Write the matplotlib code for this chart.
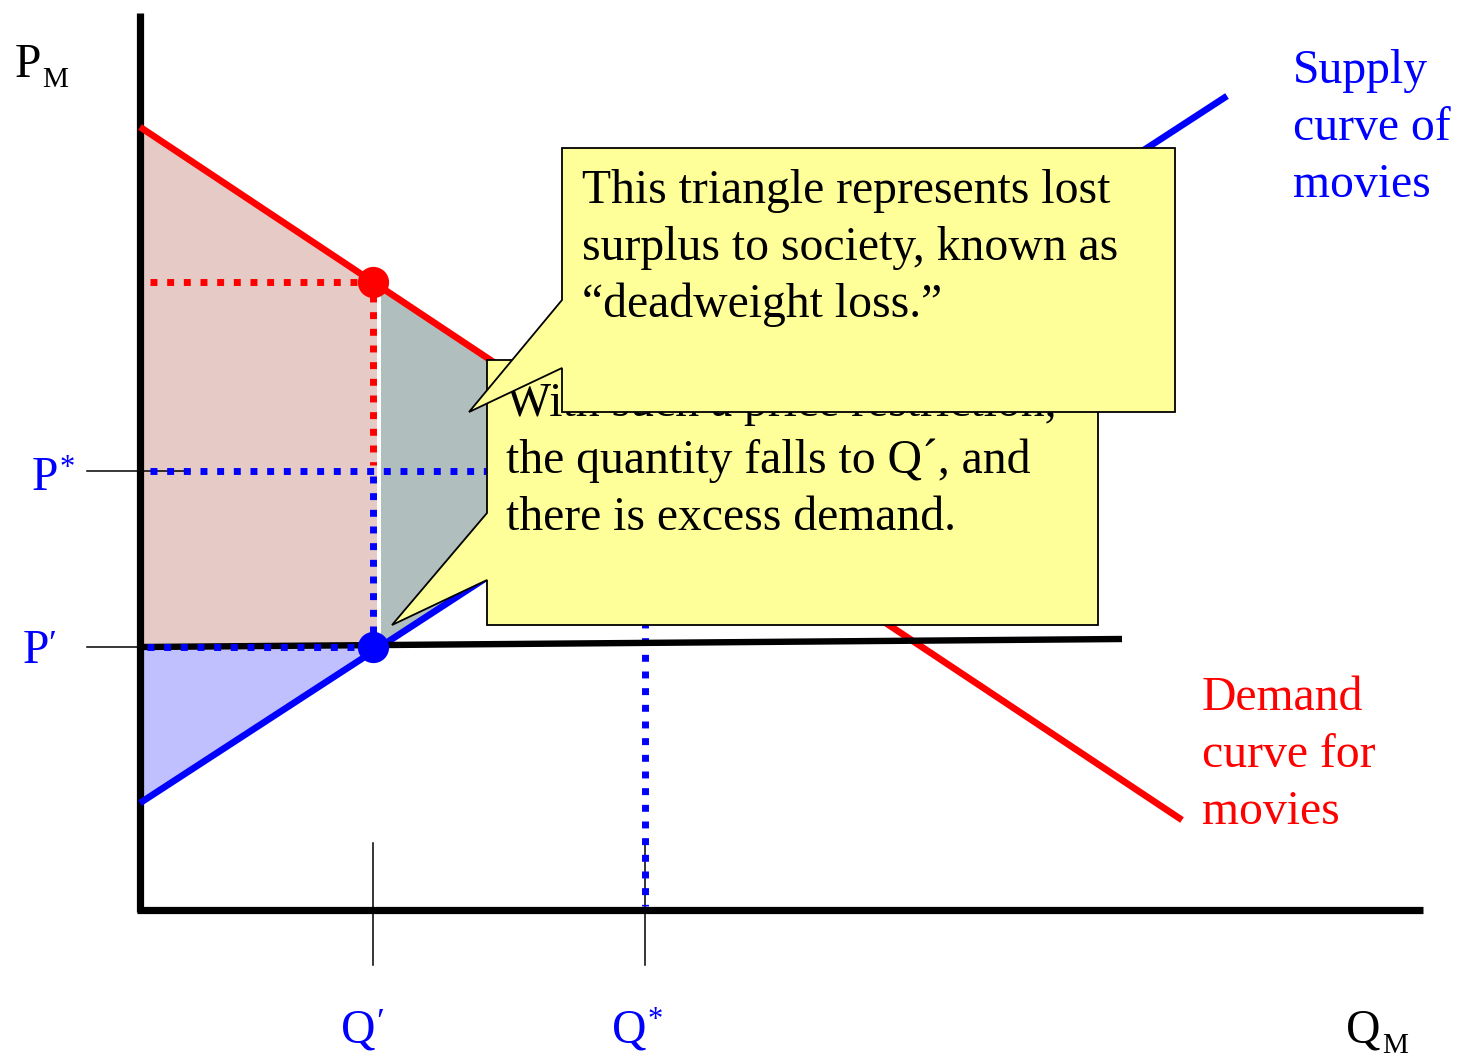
"""Price ceiling diagram for the movie market: surplus areas and deadweight loss."""
import numpy as np
import matplotlib
matplotlib.use('Agg')
import matplotlib.pyplot as plt
from matplotlib.patches import Polygon

plt.rcParams['font.family'] = ['Liberation Serif', 'DejaVu Serif']

# ---------------------------------------------------------------------------
# market data (quantity Q, price P)
# ---------------------------------------------------------------------------
demand_q = [0.0, 104.2]
demand_p = [78.3, 9.0]
supply_q = [0.0, 108.7]
supply_p = [10.7, 81.4]
ceiling_q = [0.3, 98.2]
ceiling_p = [26.3, 27.1]
q_star, p_star = 50.5, 43.9
q_prime, p_prime = 23.3, 26.3

box1_lines = ['This triangle represents lost',
              'surplus to society, known as',
              '\u201cdeadweight loss.\u201d']
box2_lines = ['With such a price restriction,',
              'the quantity falls to Q\u00b4, and',
              'there is excess demand.']
supply_label = ['Supply', 'curve of', 'movies']
demand_label = ['Demand', 'curve for', 'movies']

RED = '#ff0000'
BLUE = '#0000ff'
PINK = '#e6cac6'
GREY = '#b0bebd'
LAV = '#c0c0ff'
YELLOW = '#ffff99'
FS = 34.3
LINE_STEP = 5.7


def demand(q):
    return np.interp(q, demand_q, demand_p)


def supply(q):
    return np.interp(q, supply_q, supply_p)


fig = plt.figure(figsize=(14.58, 10.57), dpi=100)
ax = fig.add_axes([0, 0, 1, 1])
ax.set_xlim(-14.0, 131.8)
ax.set_ylim(-14.7, 91.0)
ax.axis('off')

# --- shaded areas ----------------------------------------------------------
qa = q_prime + 0.4
cs = Polygon([(0, demand(0)), (qa, demand(qa)), (qa, p_prime), (0, p_prime)],
             closed=True, fc=PINK, ec='none', zorder=1)
qb = q_prime + 0.8
dwl = Polygon([(qb, demand(qb)), (q_star, p_star), (qb, supply(qb))],
              closed=True, fc=GREY, ec='none', zorder=1)
ps = Polygon([(0, p_prime), (q_prime, p_prime), (0, supply(0))],
             closed=True, fc=LAV, ec='none', zorder=1)
for p in (cs, dwl, ps):
    ax.add_patch(p)

# --- thin reference ticks ----------------------------------------------------
for pv in (p_star, p_prime):
    ax.plot([-5.3, 5.0], [pv, pv], color='k', lw=1.1, zorder=2)
for qv in (q_prime, q_star):
    ax.plot([qv, qv], [-5.5, 6.7], color='k', lw=1.1, zorder=2)

# --- dotted guide lines -------------------------------------------------------
dot = dict(lw=5, linestyle=(0, (1, 1.4)), dash_capstyle='butt', zorder=3)
d_qp = demand(q_prime)
ax.plot([1.0, q_prime], [d_qp, d_qp], color=RED, **dot)
ax.plot([q_prime, q_prime], [d_qp - 1.3, p_star + 0.6], color=RED, **dot)
ax.plot([1.0, q_star], [p_star, p_star], color=BLUE, **dot)
ax.plot([q_prime, q_prime], [p_star - 0.5, p_prime + 0.6], color=BLUE, **dot)
ax.plot([q_star, q_star], [p_star, 0.4], color=BLUE, **dot)

# --- axes -----------------------------------------------------------------
ax.plot([0, 0], [-0.2, 89.7], color='k', lw=5.2, solid_capstyle='butt', zorder=4)
ax.plot([-0.3, 128.3], [0, 0], color='k', lw=5.2, solid_capstyle='butt', zorder=4)

# --- curves and price ceiling ------------------------------------------------
ax.plot(demand_q, demand_p, color=RED, lw=4.8, solid_capstyle='butt', zorder=4)
ax.plot(supply_q, supply_p, color=BLUE, lw=4.8, solid_capstyle='butt', zorder=4)
ax.plot(ceiling_q, ceiling_p, color='k', lw=4.6, solid_capstyle='butt', zorder=4)
ax.plot([0.7, q_prime], [p_prime, p_prime], color=BLUE, **dict(dot, zorder=5))

ax.plot([q_prime], [d_qp], 'o', color=RED, ms=22.5, mec='none', zorder=6)
ax.plot([q_prime], [p_prime], 'o', color=BLUE, ms=22.5, mec='none', zorder=6)

# --- callouts ------------------------------------------------------------
box2 = Polygon([(34.7, 55.0), (95.8, 55.0), (95.8, 28.5), (34.7, 28.5),
                (34.7, 33.0), (25.2, 28.5), (34.7, 39.7)],
               closed=True, fc=YELLOW, ec='k', lw=1.3, zorder=7)
ax.add_patch(box2)
for i, s in enumerate(box2_lines):
    ax.text(36.6, 49.4 - i * LINE_STEP, s, fontsize=FS, va='baseline',
            ha='left', zorder=7.5)

box1 = Polygon([(42.2, 76.2), (103.5, 76.2), (103.5, 49.8), (42.2, 49.8),
                (42.2, 54.2), (32.9, 49.8), (42.2, 61.0)],
               closed=True, fc=YELLOW, ec='k', lw=1.3, zorder=8)
ax.add_patch(box1)
for i, s in enumerate(box1_lines):
    ax.text(44.2, 70.7 - i * LINE_STEP, s, fontsize=FS, va='baseline',
            ha='left', zorder=9)

# --- curve labels ------------------------------------------------------------
for i, s in enumerate(supply_label):
    ax.text(115.3, 82.7 - i * LINE_STEP, s, fontsize=FS, color=BLUE,
            va='baseline', ha='left')
for i, s in enumerate(demand_label):
    ax.text(106.2, 20.0 - i * LINE_STEP, s, fontsize=FS, color=RED,
            va='baseline', ha='left')

# --- axis labels --------------------------------------------------------
ax.text(-12.5, 83.3, 'P', fontsize=FS, va='baseline', ha='left')
ax.text(-9.8, 82.3, 'M', fontsize=21, va='baseline', ha='left')
ax.text(120.6, -13.3, 'Q', fontsize=FS, va='baseline', ha='left')
ax.text(124.2, -14.3, 'M', fontsize=21, va='baseline', ha='left')

ax.text(-10.8, 42.0, 'P', fontsize=FS, color=BLUE, va='baseline', ha='left')
ax.text(-8.0, 45.6, '*', fontsize=22, color=BLUE, va='top', ha='left')
ax.text(-11.7, 24.7, 'P', fontsize=FS, color=BLUE, va='baseline', ha='left')
ax.text(-9.2, 28.0, '\u2032', fontsize=26, color=BLUE, va='top', ha='left')

ax.text(20.1, -13.3, 'Q', fontsize=FS, color=BLUE, va='baseline', ha='left')
ax.text(23.6, -9.8, '\u2032', fontsize=26, color=BLUE, va='top', ha='left')
ax.text(47.2, -13.3, 'Q', fontsize=FS, color=BLUE, va='baseline', ha='left')
ax.text(50.8, -9.6, '*', fontsize=22, color=BLUE, va='top', ha='left')

fig.savefig('out.png', dpi=100)
plt.close(fig)
